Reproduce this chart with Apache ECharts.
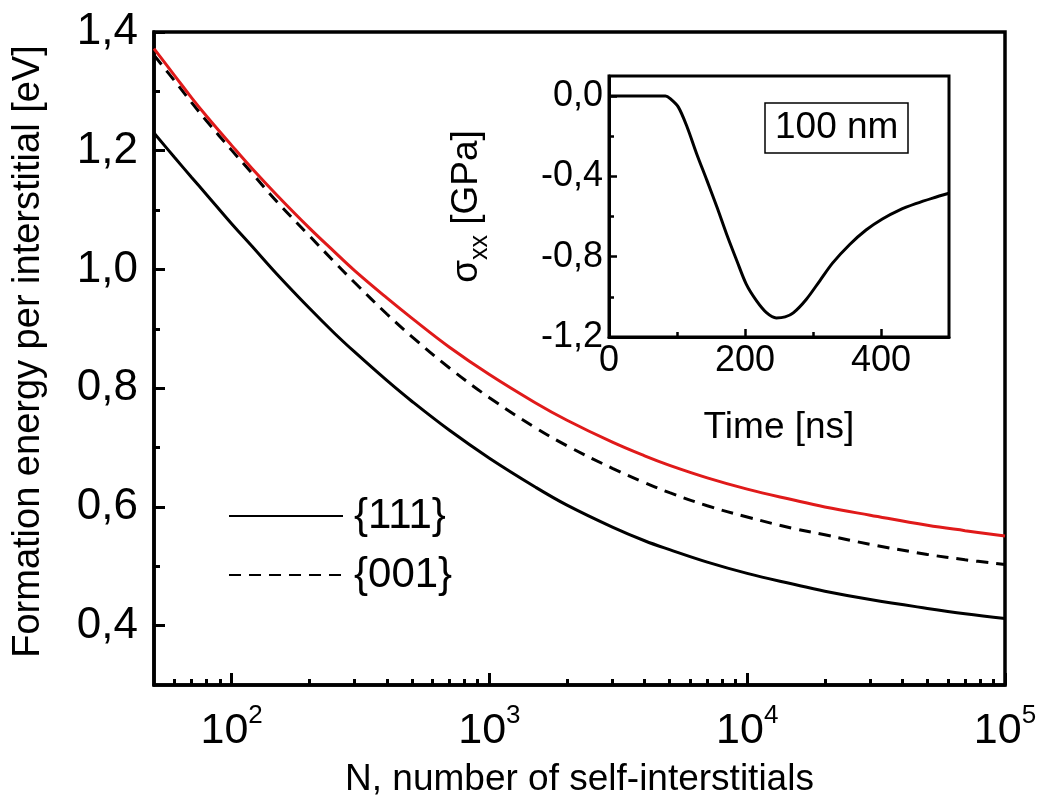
<!DOCTYPE html>
<html>
<head>
<meta charset="utf-8">
<title>Formation energy per interstitial</title>
<script src="https://cdn.jsdelivr.net/npm/echarts@6/dist/echarts.min.js"></script>
<style>
  html, body { margin: 0; padding: 0; background: #fff; }
  #chart { width: 1043px; height: 803px; }
</style>
</head>
<body>
<div id="chart"></div>
<script>
// Cluster size N (number of self-interstitials)
const clusterSizes = [50, 60, 70, 80, 100, 120, 150, 200, 250, 300, 400, 500, 700, 1000, 1500, 2000, 3000, 4000, 5000, 7000, 10000, 15000, 20000, 30000, 50000, 70000, 100000];
// Formation energy per interstitial [eV]
const energyRed = [1.372, 1.327, 1.289, 1.258, 1.209, 1.170, 1.125, 1.070, 1.030, 0.998, 0.952, 0.918, 0.869, 0.823, 0.776, 0.746, 0.709, 0.686, 0.670, 0.649, 0.630, 0.612, 0.600, 0.586, 0.569, 0.560, 0.551];
const energy001 = [1.361, 1.318, 1.281, 1.250, 1.201, 1.162, 1.114, 1.057, 1.013, 0.978, 0.925, 0.887, 0.834, 0.784, 0.734, 0.703, 0.665, 0.641, 0.624, 0.602, 0.583, 0.564, 0.553, 0.537, 0.520, 0.511, 0.503];
const energy111 = [1.230, 1.189, 1.155, 1.126, 1.077, 1.039, 0.992, 0.935, 0.893, 0.861, 0.813, 0.778, 0.729, 0.682, 0.634, 0.603, 0.566, 0.543, 0.528, 0.507, 0.488, 0.470, 0.458, 0.444, 0.429, 0.420, 0.412];

// Inset: stress history for the 100 nm case
const timeNs  = [0, 40, 83, 90, 102, 115, 129, 144, 159, 173, 188, 202, 217, 232, 246, 259, 271, 290, 310, 329, 354, 378, 402, 427, 451, 476, 500];
const sigmaXX = [0, 0, 0, -0.013, -0.055, -0.155, -0.288, -0.42, -0.555, -0.688, -0.82, -0.938, -1.02, -1.08, -1.105, -1.10, -1.08, -1.013, -0.92, -0.831, -0.739, -0.667, -0.612, -0.568, -0.536, -0.508, -0.484];

// Tick positions
const mainXMajor  = [100, 1000, 10000, 100000];
const mainXMinor  = [60, 70, 80, 90, 200, 300, 400, 500, 600, 700, 800, 900, 2000, 3000, 4000, 5000, 6000, 7000, 8000, 9000, 20000, 30000, 40000, 50000, 60000, 70000, 80000, 90000];
const mainYLabels = [0.4, 0.6, 0.8, 1.0, 1.2, 1.4];
const mainYMinor  = [0.5, 0.7, 0.9, 1.1, 1.3];
const insetXLabels = [0, 200, 400];
const insetXMajor = [200, 400];
const insetXMinor = [100, 300];
const insetYLabels = [-1.2, -0.8, -0.4, 0];
const insetYMajor = [-0.8, -0.4, 0];
const insetYMinor = [-1.0, -0.6, -0.2];

const FONT = '"Liberation Sans", Arial, Helvetica, sans-serif';
const BLACK = '#000';
const RED = '#e01a1a';

const commaFmt = v => v.toFixed(1).replace('.', ',');
const pairs = (xs, ys) => xs.map((x, i) => [x, ys[i]]);

const chart = echarts.init(document.getElementById('chart'), null, { renderer: 'canvas' });

const hiddenLine = { show: false, onZero: false };
const noLabel = { show: false };

chart.setOption({
  backgroundColor: '#fff',
  animation: false,
  textStyle: { fontFamily: FONT, color: BLACK },
  title: {
    text: '100 nm',
    left: 765, top: 103,
    padding: [5, 10],
    borderColor: BLACK, borderWidth: 1.5,
    textStyle: { fontFamily: FONT, fontSize: 37, fontWeight: 'normal', color: BLACK, lineHeight: 40 }
  },
  legend: {
    orient: 'vertical',
    left: 223, top: 489,
    itemWidth: 114, itemHeight: 20, itemGap: 15,
    selectedMode: false,
    data: ['{111}', '{001}'],
    itemStyle: { opacity: 0 },
    textStyle: { fontFamily: FONT, fontSize: 42, color: BLACK, lineHeight: 44, padding: [0, 0, 0, 6] }
  },
  grid: [
    { left: 154, top: 32, width: 851, height: 654, show: true, borderColor: BLACK, borderWidth: 3.5, backgroundColor: 'transparent' },
    { left: 609, top: 76, width: 340, height: 261, show: true, borderColor: BLACK, borderWidth: 3, backgroundColor: 'transparent' }
  ],
  xAxis: [
    {
      gridIndex: 0, type: 'log', logBase: 10, min: 50, max: 100000, position: 'bottom',
      name: 'N, number of self-interstitials', nameLocation: 'middle', nameGap: 76,
      nameTextStyle: { fontFamily: FONT, fontSize: 37, color: BLACK },
      axisLine: { show: true, onZero: false, lineStyle: { color: BLACK, width: 3.5 } },
      axisTick: { show: true, inside: true, length: 12, customValues: mainXMajor, lineStyle: { color: BLACK, width: 3 } },
      axisLabel: {
        show: true, margin: 18, customValues: mainXMajor,
        formatter: v => '{b|10}{s|' + Math.round(Math.log10(v)) + '}',
        rich: {
          b: { fontFamily: FONT, fontSize: 43, color: BLACK, lineHeight: 50, verticalAlign: 'bottom' },
          s: { fontFamily: FONT, fontSize: 26, color: BLACK, lineHeight: 50, verticalAlign: 'top' }
        }
      },
      splitLine: { show: false }
    },
    {
      gridIndex: 0, type: 'log', logBase: 10, min: 50, max: 100000, position: 'bottom',
      axisLine: hiddenLine,
      axisTick: { show: true, inside: true, length: 6, customValues: mainXMinor, lineStyle: { color: BLACK, width: 3 } },
      axisLabel: noLabel,
      splitLine: { show: false }
    },
    {
      gridIndex: 1, type: 'value', min: 0, max: 500, interval: 100, position: 'bottom',
      name: 'Time [ns]', nameLocation: 'middle', nameGap: 72,
      nameTextStyle: { fontFamily: FONT, fontSize: 37, color: BLACK },
      axisLine: { show: true, onZero: false, lineStyle: { color: BLACK, width: 3 } },
      axisTick: { show: true, inside: true, length: 8, customValues: insetXMajor, lineStyle: { color: BLACK, width: 2.5 } },
      axisLabel: { show: true, margin: 6, customValues: insetXLabels, fontFamily: FONT, fontSize: 36, color: BLACK },
      splitLine: { show: false }
    },
    {
      gridIndex: 1, type: 'value', min: 0, max: 500, interval: 100, position: 'bottom',
      axisLine: hiddenLine,
      axisTick: { show: true, inside: true, length: 5, customValues: insetXMinor, lineStyle: { color: BLACK, width: 2.5 } },
      axisLabel: noLabel,
      splitLine: { show: false }
    }
  ],
  yAxis: [
    {
      gridIndex: 0, type: 'value', min: 0.3, max: 1.4, interval: 0.1, position: 'left',
      name: 'Formation energy per interstitial [eV]', nameLocation: 'middle', nameGap: 106,
      nameTextStyle: { fontFamily: FONT, fontSize: 38, color: BLACK, padding: [0, 0, 0, 14] },
      axisLine: { show: true, onZero: false, lineStyle: { color: BLACK, width: 3.5 } },
      axisTick: { show: true, inside: true, length: 11, customValues: mainYLabels, lineStyle: { color: BLACK, width: 3 } },
      axisLabel: { show: true, margin: 16, customValues: mainYLabels, formatter: commaFmt, fontFamily: FONT, fontSize: 44, color: BLACK },
      splitLine: { show: false }
    },
    {
      gridIndex: 0, type: 'value', min: 0.3, max: 1.4, interval: 0.1, position: 'left',
      axisLine: hiddenLine,
      axisTick: { show: true, inside: true, length: 6, customValues: mainYMinor, lineStyle: { color: BLACK, width: 3 } },
      axisLabel: noLabel,
      splitLine: { show: false }
    },
    {
      gridIndex: 1, type: 'value', min: -1.2, max: 0.1, position: 'left',
      name: '{g|σ}{sub|xx}{g| [GPa]}', nameLocation: 'middle', nameGap: 124,
      nameTextStyle: {
        fontFamily: FONT, color: BLACK,
        rich: {
          g: { fontFamily: FONT, fontSize: 37, color: BLACK, lineHeight: 44, verticalAlign: 'bottom' },
          sub: { fontFamily: FONT, fontSize: 25, color: BLACK, lineHeight: 44, verticalAlign: 'bottom', padding: [0, 0, -8, 0] }
        }
      },
      axisLine: { show: true, onZero: false, lineStyle: { color: BLACK, width: 3 } },
      axisTick: { show: true, inside: true, length: 8, customValues: insetYMajor, lineStyle: { color: BLACK, width: 2.5 } },
      axisLabel: { show: true, margin: 6, customValues: insetYLabels, formatter: commaFmt, fontFamily: FONT, fontSize: 36, color: BLACK },
      splitLine: { show: false }
    },
    {
      gridIndex: 1, type: 'value', min: -1.2, max: 0.1, position: 'left',
      axisLine: hiddenLine,
      axisTick: { show: true, inside: true, length: 5, customValues: insetYMinor, lineStyle: { color: BLACK, width: 2.5 } },
      axisLabel: noLabel,
      splitLine: { show: false }
    }
  ],
  series: [
    {
      name: 'upper', type: 'line', xAxisIndex: 0, yAxisIndex: 0,
      data: pairs(clusterSizes, energyRed), smooth: 0.4, symbol: 'none',
      lineStyle: { color: RED, width: 3 }, z: 3
    },
    {
      name: '{001}', type: 'line', xAxisIndex: 0, yAxisIndex: 0,
      data: pairs(clusterSizes, energy001), smooth: 0.4, symbol: 'none',
      itemStyle: { color: BLACK },
      lineStyle: { color: BLACK, width: 3, type: [12, 8] }, z: 2
    },
    {
      name: '{111}', type: 'line', xAxisIndex: 0, yAxisIndex: 0,
      data: pairs(clusterSizes, energy111), smooth: 0.4, symbol: 'none',
      itemStyle: { color: BLACK },
      lineStyle: { color: BLACK, width: 3 }, z: 2
    },
    {
      name: 'sigma', type: 'line', xAxisIndex: 2, yAxisIndex: 2,
      data: pairs(timeNs, sigmaXX), smooth: 0.3, symbol: 'none',
      lineStyle: { color: BLACK, width: 3 }
    }
  ]
});
</script>
</body>
</html>
